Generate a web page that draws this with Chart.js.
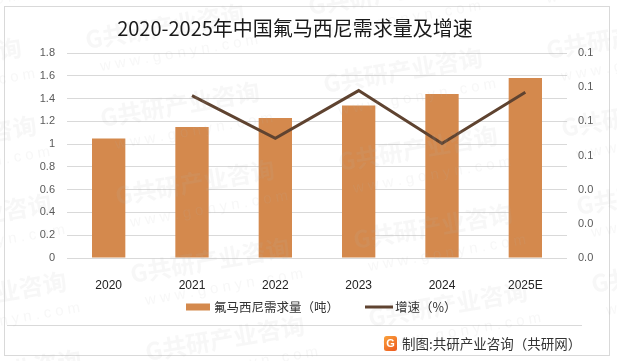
<!DOCTYPE html>
<html><head><meta charset="utf-8">
<script src="https://cdn.jsdelivr.net/npm/chart.js@4/dist/chart.umd.min.js"></script>
<style>html,body{margin:0;padding:0;background:#fff}#wrap{width:617px;height:361px;position:relative}</style>
</head><body><div id="wrap"><canvas id="c" width="617" height="361"></canvas></div>
<script>
const categories = ['2020', '2021', '2022', '2023', '2024', '2025E'];
const demand = [1.05, 1.15, 1.23, 1.34, 1.44, 1.58];
const growth = [null, 0.095, 0.07, 0.098, 0.067, 0.097];
const seriesNames = ['氟马西尼需求量（吨）', '增速（%）'];
const titleText = '2020-2025年中国氟马西尼需求量及增速';
const sourceText = '制图:共研产业咨询（共研网）';
const watermarkText = '共研产业咨询';
const watermarkUrl = 'w w w . g o n y n . c o m';

const CJK = '"Noto Sans CJK SC", "Noto Sans", sans-serif';
const LAT = '"Liberation Sans", Arial, sans-serif';
const barColor = '#D4894D';
const lineColor = '#5F4330';

const deco = {
  id: 'deco',
  beforeDraw(chart) {
    const ctx = chart.ctx;
    ctx.save();
    ctx.fillStyle = '#fff';
    ctx.fillRect(0, 0, chart.width, chart.height);
    ctx.strokeStyle = '#D9D9D9';
    ctx.lineWidth = 1;
    ctx.strokeRect(4.5, 6.5, 605, 349);
    ctx.beginPath();
    ctx.moveTo(7, 325.5); ctx.lineTo(582, 325.5); ctx.stroke();
    ctx.restore();
  },
  afterDraw(chart) {
    const ctx = chart.ctx;
    ctx.save();
    // watermarks
    ctx.fillStyle = 'rgba(185,185,185,0.11)';
    for (let col = -1; col < 3; col++) {
      for (let row = -1; row < 5; row++) {
        const x = 87 + col * 223 + row * 15;
        const y = 127 - col * 34 + row * 78 - 78;
        ctx.save();
        ctx.translate(x, y);
        ctx.rotate(-0.17);
        ctx.font = 'bold 24px ' + CJK;
        ctx.fillText('G' + watermarkText, 0, 0);
        ctx.font = '15px ' + LAT;
        ctx.fillText(watermarkUrl, 10, 24);
        ctx.restore();
      }
    }
    // title
    ctx.fillStyle = '#1a1a1a';
    ctx.font = '20px ' + CJK;
    ctx.textAlign = 'center';
    ctx.textBaseline = 'middle';
    ctx.fillText(titleText, 295, 28);
    // legend
    const ds = chart.data.datasets;
    const barDs = ds.find(d => d.type === 'bar');
    const lineDs = ds.find(d => d.type === 'line');
    ctx.textAlign = 'left';
    ctx.font = '12.5px ' + CJK;
    ctx.fillStyle = barDs.backgroundColor;
    ctx.fillRect(186, 303.5, 24, 7);
    ctx.fillStyle = '#333';
    ctx.fillText(barDs.label, 214, 307);
    ctx.strokeStyle = lineDs.borderColor;
    ctx.lineWidth = 3;
    ctx.beginPath(); ctx.moveTo(365, 307); ctx.lineTo(393, 307); ctx.stroke();
    ctx.fillText(lineDs.label, 395, 307);
    // footer logo
    const g = ctx.createLinearGradient(384, 336, 396, 351);
    g.addColorStop(0, '#F9A23C'); g.addColorStop(1, '#EE5A1F');
    ctx.fillStyle = g;
    ctx.beginPath();
    ctx.roundRect(384, 336, 13, 15, 2.5);
    ctx.fill();
    ctx.fillStyle = '#fff';
    ctx.font = 'bold 11px ' + LAT;
    ctx.textAlign = 'center';
    ctx.fillText('G', 390.5, 344);
    ctx.fillStyle = '#333';
    ctx.textAlign = 'left';
    ctx.font = '13.5px ' + CJK;
    ctx.fillText(sourceText, 402, 344);
    ctx.restore();
  }
};

new Chart(document.getElementById('c'), {
  data: {
    labels: categories,
    datasets: [
      { type: 'line', label: seriesNames[1], data: growth, yAxisID: 'y1', borderColor: lineColor, backgroundColor: lineColor, borderWidth: 3, pointRadius: 0, tension: 0, order: 1 },
      { type: 'bar', label: seriesNames[0], data: demand, yAxisID: 'y', backgroundColor: barColor, barPercentage: 0.4, categoryPercentage: 1.0, order: 2 }
    ]
  },
  options: {
    responsive: false,
    devicePixelRatio: 1,
    animation: false,
    layout: { padding: { top: 53, left: 0, right: 0, bottom: 0 } },
    plugins: { legend: { display: false }, title: { display: false }, tooltip: { enabled: false } },
    scales: {
      x: {
        grid: { display: false }, border: { display: false },
        ticks: { color: '#222', font: { family: LAT, size: 12 }, padding: 12, maxRotation: 0 },
        afterFit(s) { s.height = 103; }
      },
      y: {
        position: 'left', min: 0, max: 1.8,
        grid: { color: '#D9D9D9', drawTicks: false }, border: { display: false },
        ticks: { stepSize: 0.2, color: '#595959', font: { family: LAT, size: 11 }, padding: 12,
          callback: v => String(Math.round(v * 10) / 10) },
        afterFit(s) { s.width = 67; }
      },
      y1: {
        position: 'right', min: 0, max: 0.12,
        grid: { display: false, drawTicks: false }, border: { display: false },
        ticks: { stepSize: 0.02, color: '#595959', font: { family: LAT, size: 11 }, padding: 11,
          callback: v => v.toFixed(1) },
        afterFit(s) { s.width = 50; }
      }
    }
  },
  plugins: [deco]
});
</script></body></html>
